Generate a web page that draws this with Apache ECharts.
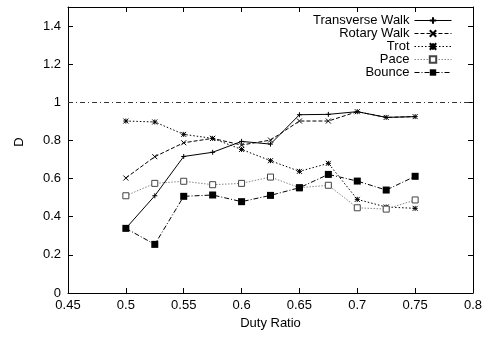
<!DOCTYPE html>
<html>
<head>
    <meta http-equiv="Content-Type" content="text/html; charset=utf-8" />
    <title>Duty Ratio - D</title>
    <script src="https://cdn.jsdelivr.net/npm/echarts@6/dist/echarts.min.js"></script>
</head>
<body style="margin:0;padding:0;background:#ffffff;">
    <div id="main" style="width:499px;height:337px;"></div>
    <script type="text/javascript">
        // data
        var dutyRatio = [0.5, 0.525, 0.55, 0.575, 0.6, 0.625, 0.65, 0.675, 0.7, 0.725, 0.75];
        var transverseWalk = [0.339, 0.51, 0.716, 0.738, 0.795, 0.781, 0.935, 0.937, 0.951, 0.921, 0.925];
        var rotaryWalk = [0.603, 0.715, 0.788, 0.811, 0.776, 0.802, 0.902, 0.902, 0.951, 0.921, 0.925];
        var trot = [0.902, 0.897, 0.832, 0.811, 0.753, 0.694, 0.638, 0.68, 0.491, 0.451, 0.444];
        var pace = [0.51, 0.575, 0.586, 0.568, 0.575, 0.608, 0.552, 0.565, 0.447, 0.44, 0.488];
        var bounce = [0.339, 0.255, 0.507, 0.514, 0.479, 0.512, 0.552, 0.622, 0.587, 0.54, 0.612];
        var seriesNames = ['Transverse Walk', 'Rotary Walk', 'Trot', 'Pace', 'Bounce'];
        var refLevel = 1;

        var FONT = 'Liberation Sans, Arial, sans-serif';

        function pairs(ys) {
            var out = [];
            for (var i = 0; i < dutyRatio.length; i++) out.push([dutyRatio[i], ys[i]]);
            return out;
        }

        var chart = echarts.init(document.getElementById('main'));

        var xBase = {
            type: 'value', min: 0.45, max: 0.8, interval: 0.05,
            splitLine: { show: false },
            axisLine: { show: true, onZero: false, lineStyle: { color: '#000', width: 1 } },
            axisTick: { show: true, inside: true, length: 5, lineStyle: { color: '#000' } }
        };
        var yBase = {
            type: 'value', min: 0, max: 1.5, interval: 0.2,
            splitLine: { show: false },
            axisLine: { show: true, onZero: false, lineStyle: { color: '#000', width: 1 } },
            axisTick: { show: true, inside: true, length: 5, lineStyle: { color: '#000' } }
        };

        var option = {
            animation: false,
            backgroundColor: '#ffffff',
            textStyle: { fontFamily: FONT, color: '#000' },
            grid: { left: 68, right: 26, top: 7, bottom: 44 },
            legend: {
                data: seriesNames,
                orient: 'vertical',
                right: 42,
                top: 9,
                align: 'right',
                itemWidth: 37,
                itemHeight: 8,
                itemGap: 0,
                lineStyle: { width: 1 },
                formatter: function (name) { return '{a|' + name + '}'; },
                textStyle: {
                    rich: { a: { width: 99, align: 'right', fontSize: 13, lineHeight: 13.5, fontFamily: FONT, color: '#000' } }
                }
            },
            xAxis: [
                Object.assign({}, xBase, {
                    position: 'bottom',
                    name: 'Duty Ratio',
                    nameLocation: 'middle',
                    nameGap: 18,
                    nameTextStyle: { fontSize: 13, color: '#000', fontFamily: FONT },
                    axisLabel: { margin: 6, fontSize: 13, color: '#000', fontFamily: FONT }
                }),
                Object.assign({}, xBase, { position: 'top', axisLabel: { show: false } })
            ],
            yAxis: [
                Object.assign({}, yBase, {
                    position: 'left',
                    name: 'D',
                    nameLocation: 'middle',
                    nameGap: 42,
                    nameTextStyle: { fontSize: 13, color: '#000', fontFamily: FONT, padding: [0, 0, 0, 16] },
                    axisLabel: { margin: 7, fontSize: 13, color: '#000', fontFamily: FONT, showMaxLabel: false }
                }),
                Object.assign({}, yBase, { position: 'right', axisLabel: { show: false } })
            ],
            series: [
                {
                    name: 'Transverse Walk', type: 'line', data: pairs(transverseWalk),
                    symbol: 'path://M0,5L10,5M5,0L5,10', symbolSize: 5,
                    itemStyle: { color: '#000', borderColor: '#000', borderWidth: 1 },
                    lineStyle: { color: '#000', width: 1, type: 'solid' },
                    markLine: {
                        silent: true, symbol: 'none', label: { show: false },
                        lineStyle: { color: '#333', width: 1, type: [5, 3, 1, 3] },
                        data: [{ yAxis: refLevel }]
                    }
                },
                {
                    name: 'Rotary Walk', type: 'line', data: pairs(rotaryWalk),
                    symbol: 'path://M0,0L10,10M10,0L0,10', symbolSize: 5,
                    itemStyle: { color: '#000', borderColor: '#000', borderWidth: 1 },
                    lineStyle: { color: '#000', width: 1, type: [4, 2] }
                },
                {
                    name: 'Trot', type: 'line', data: pairs(trot),
                    symbol: 'path://M0,0L10,10M10,0L0,10M5,0L5,10M0,5L10,5', symbolSize: 5,
                    itemStyle: { color: '#000', borderColor: '#000', borderWidth: 1 },
                    lineStyle: { color: '#000', width: 1, type: [1.5, 2] }
                },
                {
                    name: 'Pace', type: 'line', data: pairs(pace),
                    symbol: 'rect', symbolSize: 6,
                    itemStyle: { color: '#fff', borderColor: '#444', borderWidth: 1 },
                    lineStyle: { color: '#888', width: 1, type: [1.5, 1.5] }
                },
                {
                    name: 'Bounce', type: 'line', data: pairs(bounce),
                    symbol: 'rect', symbolSize: 7,
                    itemStyle: { color: '#000' },
                    lineStyle: { color: '#000', width: 1, type: [5, 2, 1, 2] }
                }
            ]
        };
        chart.setOption(option);
    </script>
</body>
</html>
